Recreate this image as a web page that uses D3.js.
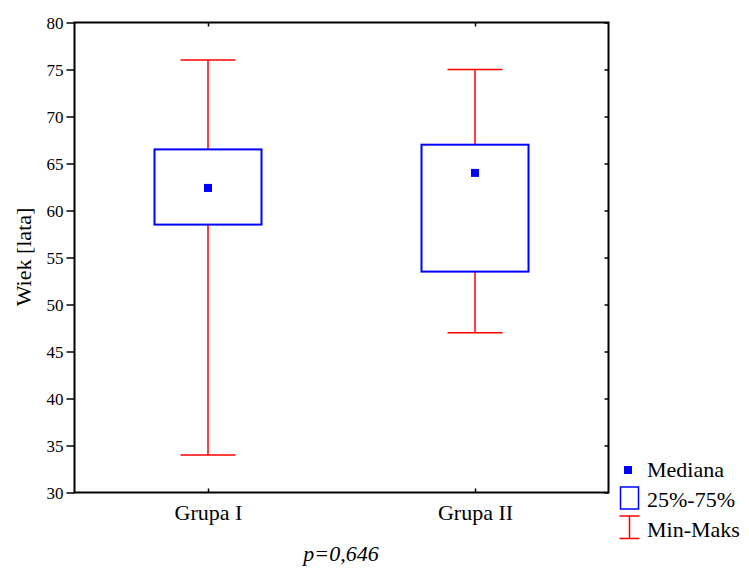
<!DOCTYPE html>
<html>
<head>
<meta charset="utf-8">
<script src="https://cdn.jsdelivr.net/npm/d3@7"></script>
<style>
html,body{margin:0;padding:0;background:#fff;}
</style>
</head>
<body>
<svg id="chart" width="749" height="568"></svg>
<script>
const categories = ["Grupa I", "Grupa II"];
const medians = [62.4, 64.0];
const q1 = [58.5, 53.5];
const q3 = [66.5, 67.0];
const mins = [34, 47];
const maxs = [76, 75];
const yTicks = [30, 35, 40, 45, 50, 55, 60, 65, 70, 75, 80];
const yLabel = "Wiek [lata]";
const pText = "p=0,646";
const legendLabels = ["Mediana", "25%-75%", "Min-Maks"];

const FONT = "'Liberation Serif', 'Times New Roman', serif";
const svg = d3.select("#chart");
const L = 74.5, R = 608.5, T = 22.5, B = 492.5;

const x = d3.scalePoint().domain(categories).range([L, R]).padding(0.5);
const y = d3.scaleLinear().domain([30, 80]).range([B, T]);

const boxW = 107, capW = 55;

// frame
svg.append("rect").attr("x", L).attr("y", T).attr("width", R - L).attr("height", B - T)
  .attr("fill", "none").attr("stroke", "#000").attr("stroke-width", 2);

// y axis (left, outward ticks)
const yAxis = svg.append("g").attr("transform", `translate(${L},0)`)
  .call(d3.axisLeft(y).tickValues(yTicks).tickSize(8).tickPadding(3).tickFormat(d3.format("d")));
yAxis.select(".domain").remove();
yAxis.selectAll("line").attr("stroke", "#000").attr("stroke-width", 1.5);
yAxis.selectAll("text").style("font-family", FONT).style("font-size", "17px").attr("fill", "#000").attr("dy", "0.36em");

// right inward ticks
const yAxisR = svg.append("g").attr("transform", `translate(${R},0)`)
  .call(d3.axisRight(y).tickValues(yTicks).tickSize(-4).tickFormat(""));
yAxisR.select(".domain").remove();
yAxisR.selectAll("line").attr("stroke", "#000").attr("stroke-width", 1.5);

// x axis bottom inward ticks + labels
const xAxis = svg.append("g").attr("transform", `translate(0,${B})`)
  .call(d3.axisBottom(x).tickSize(-4).tickPadding(12));
xAxis.select(".domain").remove();
xAxis.selectAll("line").attr("stroke", "#000").attr("stroke-width", 1.5);
xAxis.selectAll("text").style("font-family", FONT).style("font-size", "22px").attr("fill", "#000");

// x axis top inward ticks
const xAxisT = svg.append("g").attr("transform", `translate(0,${T})`)
  .call(d3.axisTop(x).tickSize(-4).tickFormat(""));
xAxisT.select(".domain").remove();
xAxisT.selectAll("line").attr("stroke", "#000").attr("stroke-width", 1.5);

// data
const data = categories.map((c, i) => ({c, med: medians[i], q1: q1[i], q3: q3[i], min: mins[i], max: maxs[i]}));
const g = svg.append("g").selectAll("g").data(data).join("g");

// whiskers
g.append("line").attr("x1", d => x(d.c)).attr("x2", d => x(d.c))
  .attr("y1", d => y(d.max)).attr("y2", d => y(d.q3)).attr("stroke", "#ff0000").attr("stroke-width", 1.5);
g.append("line").attr("x1", d => x(d.c)).attr("x2", d => x(d.c))
  .attr("y1", d => y(d.q1)).attr("y2", d => y(d.min)).attr("stroke", "#ff0000").attr("stroke-width", 1.5);
g.append("line").attr("x1", d => x(d.c) - capW / 2).attr("x2", d => x(d.c) + capW / 2)
  .attr("y1", d => y(d.max)).attr("y2", d => y(d.max)).attr("stroke", "#ff0000").attr("stroke-width", 1.5);
g.append("line").attr("x1", d => x(d.c) - capW / 2).attr("x2", d => x(d.c) + capW / 2)
  .attr("y1", d => y(d.min)).attr("y2", d => y(d.min)).attr("stroke", "#ff0000").attr("stroke-width", 1.5);

// boxes
g.append("rect").attr("x", d => x(d.c) - boxW / 2).attr("width", boxW)
  .attr("y", d => y(d.q3)).attr("height", d => y(d.q1) - y(d.q3))
  .attr("fill", "none").attr("stroke", "#0000ff").attr("stroke-width", 2);

// median markers
g.append("rect").attr("x", d => x(d.c) - 4).attr("y", d => y(d.med) - 4)
  .attr("width", 8).attr("height", 8).attr("fill", "#0000ff");

// y label
svg.append("text").attr("transform", "translate(31,257) rotate(-90)")
  .attr("text-anchor", "middle").style("font-family", FONT).style("font-size", "22px").text(yLabel);

// p value
svg.append("text").attr("x", 341).attr("y", 561).attr("text-anchor", "middle").style("font-family", FONT)
  .style("font-size", "22px").style("font-style", "italic").text(pText);

// legend
const lg = svg.append("g");
lg.append("rect").attr("x", 624).attr("y", 466).attr("width", 8).attr("height", 8).attr("fill", "#0000ff");
lg.append("rect").attr("x", 620.5).attr("y", 487).attr("width", 18).attr("height", 22)
  .attr("fill", "none").attr("stroke", "#0000ff").attr("stroke-width", 1.5);
lg.append("line").attr("x1", 629.5).attr("x2", 629.5).attr("y1", 516).attr("y2", 538.5).attr("stroke", "#ff0000").attr("stroke-width", 1.5);
lg.append("line").attr("x1", 619.5).attr("x2", 639.5).attr("y1", 516).attr("y2", 516).attr("stroke", "#ff0000").attr("stroke-width", 1.5);
lg.append("line").attr("x1", 619.5).attr("x2", 639.5).attr("y1", 538.5).attr("y2", 538.5).attr("stroke", "#ff0000").attr("stroke-width", 1.5);
lg.selectAll("text.lt").data(legendLabels).join("text").attr("class", "lt").style("font-family", FONT)
  .attr("x", 647).attr("y", (d, i) => 477 + i * 30).style("font-size", "22px").text(d => d);
</script>
</body>
</html>
